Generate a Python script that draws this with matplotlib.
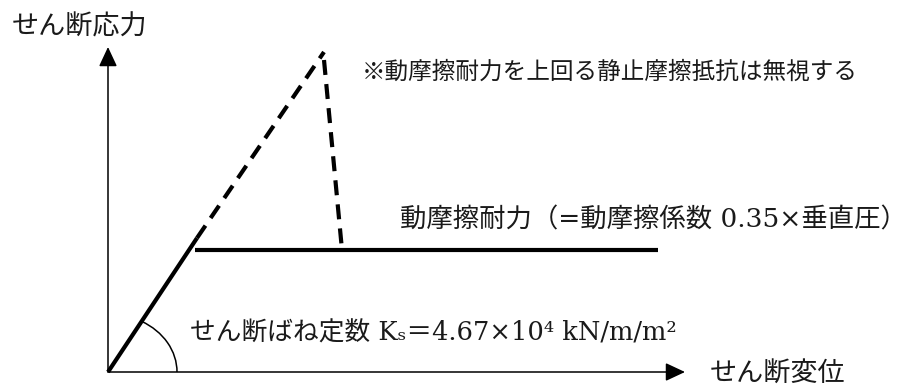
import numpy as np
import matplotlib
matplotlib.use("Agg")
import matplotlib.pyplot as plt
from matplotlib.patches import Arc

# fonts: serif Latin, CJK falls back to Noto Sans CJK JP
plt.rcParams["font.family"] = ["DejaVu Serif", "Noto Sans CJK JP"]

# --- data (shear displacement vs shear stress, arbitrary units) ---
elastic_x = [0, 89]          # solid elastic branch
elastic_y = [0, 134]
static_x = [89, 216]         # ignored static friction (dashed, rising)
static_y = [134, 320]
drop_x = [216, 234]          # dashed drop to kinetic friction level
drop_y = [312, 122]
friction_x = [87, 550]       # kinetic friction plateau
friction_y = [122, 122]
axis_x_end = 577
axis_y_end = 325

label_y = "せん断応力"
label_x = "せん断変位"
note = "※動摩擦耐力を上回る静止摩擦抵抗は無視する"
friction_label = "動摩擦耐力（=動摩擦係数 0.35×垂直圧）"
spring_label = "せん断ばね定数 K\u209b\uff1d4.67×10\u2074 kN/m/m\u00b2"

W, H = 910, 385
fig = plt.figure(figsize=(W / 100, H / 100), dpi=100)
ox, oy = 108, 372
ax = fig.add_axes([ox / W, (H - oy) / H, (W - ox) / W, oy / H])
ax.set_xlim(0, W - ox)
ax.set_ylim(0, oy)
ax.axis("off")

# axes with arrows
arrow = dict(arrowstyle="-|>,head_length=0.6,head_width=0.28", lw=1.1,
             color="black", shrinkA=0, shrinkB=0, mutation_scale=20)
ax.annotate("", xy=(axis_x_end, 0), xytext=(0, 0), arrowprops=arrow,
            annotation_clip=False)
ax.annotate("", xy=(0, axis_y_end), xytext=(0, 0), arrowprops=arrow,
            annotation_clip=False)

# curve
dash = (0, (3.6, 2.2))
ax.plot(elastic_x, elastic_y, color="black", lw=3, solid_capstyle="butt", clip_on=False)
ax.plot(static_x, static_y, color="black", lw=3, ls=dash, clip_on=False)
ax.plot(drop_x, drop_y, color="black", lw=3, ls=dash, clip_on=False)
ax.plot(friction_x, friction_y, color="black", lw=3, solid_capstyle="butt", clip_on=False)

# angle arc for the spring constant
ang = np.degrees(np.arctan2(elastic_y[1], elastic_x[1]))
ax.add_patch(Arc((0, 0), 138, 116, theta1=0, theta2=ang, lw=1.1, color="black"))

# texts
tc = "#1a1a1a"
ax.text(-96, 345, label_y, fontsize=19.5, color=tc, va="center", ha="left")
ax.text(602, -1, label_x, fontsize=19.5, color=tc, va="center", ha="left")
ax.text(254, 300, note, fontsize=17, color=tc, va="center", ha="left")
ax.text(292, 152, friction_label, fontsize=19, color=tc, va="center", ha="left")
ax.text(82, 39, spring_label, fontsize=18.5, color=tc, va="center", ha="left")

fig.savefig("out.png", dpi=100, facecolor="white")
